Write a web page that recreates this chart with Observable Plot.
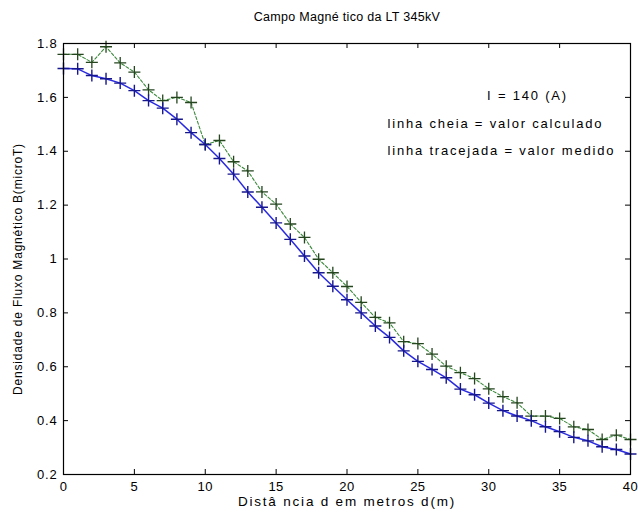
<!DOCTYPE html>
<html>
<head>
<meta charset="utf-8">
<script src="https://cdn.jsdelivr.net/npm/d3@7"></script>
<script src="https://cdn.jsdelivr.net/npm/@observablehq/plot@0.6"></script>
<style>
  html, body { margin: 0; padding: 0; background: #fff; }
  #wrap { position: relative; width: 638px; height: 520px; overflow: hidden; font-family: "Liberation Sans", Arial, sans-serif; color: #000; }
  #title { position: absolute; top: 9px; left: 63px; width: 568px; text-align: center; font-size: 12.5px; line-height: 16px; letter-spacing: 0.3px; }
  #chart { position: absolute; top: 30px; left: 0; }
</style>
</head>
<body>
<div id="wrap">
  <div id="title">Campo Magné tico da LT 345kV</div>
  <div id="chart"></div>
</div>
<script>
// ---- data ----
const distances = [0,1,2,3,4,5,6,7,8,9,10,11,12,13,14,15,16,17,18,19,20,21,22,23,24,25,26,27,28,29,30,31,32,33,34,35,36,37,38,39,40];
const calculated = [1.707,1.706,1.681,1.669,1.653,1.625,1.588,1.560,1.519,1.469,1.425,1.373,1.315,1.249,1.192,1.134,1.073,1.011,0.949,0.899,0.849,0.800,0.751,0.709,0.659,0.620,0.590,0.559,0.517,0.496,0.465,0.437,0.417,0.400,0.377,0.359,0.338,0.325,0.303,0.293,0.276];
const measured = [1.760,1.760,1.730,1.788,1.728,1.694,1.628,1.588,1.600,1.581,1.425,1.440,1.361,1.327,1.249,1.204,1.130,1.080,0.999,0.949,0.898,0.839,0.783,0.763,0.693,0.686,0.647,0.602,0.578,0.556,0.518,0.489,0.466,0.417,0.417,0.408,0.377,0.367,0.330,0.346,0.330];
const xTicks = [0,5,10,15,20,25,30,35,40];
const yTicks = [0.2,0.4,0.6,0.8,1,1.2,1.4,1.6,1.8];
const yTickLabels = ["0.2","0.4","0.6","0.8","1","1.2","1.4","1.6","1.8"];
const titleText = "Campo Magné tico da LT 345kV";
const xLabel = "Distâ ncia d em metros d(m)";
const yLabel = "Densidade de Fluxo Magnético B(microT)";
const annotations = ["I = 140 (A)", "linha cheia = valor calculado", "linha tracejada = valor medido"];

const calcData = distances.map((d, i) => ({d, v: calculated[i]}));
const measData = distances.map((d, i) => ({d, v: measured[i]}));

// ---- layout ----
const W = 638, H = 490;
const mTop = 13, mBottom = 46, mLeft = 63, mRight = 8;
const plotW = W - mLeft - mRight, plotH = H - mTop - mBottom;
const tickLen = 5;

const plusSymbol = {
  draw(ctx, size) {
    const r = Math.sqrt(size / Math.PI);
    ctx.moveTo(-r, 0); ctx.lineTo(r, 0);
    ctx.moveTo(0, -r); ctx.lineTo(0, r);
  }
};

const chart = Plot.plot({
  width: W, height: H,
  marginTop: mTop, marginBottom: mBottom, marginLeft: mLeft, marginRight: mRight,
  x: {domain: [0, 40]},
  y: {domain: [0.2, 1.8]},
  style: {fontFamily: "'Liberation Sans', Arial, sans-serif", fontSize: "13px", color: "#000", background: "#fff", overflow: "visible"},
  marks: [
    // lines
    Plot.line(measData, {x: "d", y: "v", stroke: "#3b8a3b", strokeWidth: 1.1, strokeDasharray: "3,2"}),
    Plot.line(calcData, {x: "d", y: "v", stroke: "#2a2ae0", strokeWidth: 1.5}),
    Plot.dot(measData, {x: "d", y: "v", symbol: plusSymbol, r: 6, fill: "none", stroke: "#25451f", strokeWidth: 1.3}),
    Plot.dot(calcData, {x: "d", y: "v", symbol: plusSymbol, r: 6, fill: "none", stroke: "#16168f", strokeWidth: 1.4}),
    // box & inward ticks
    Plot.frame({stroke: "#000", strokeWidth: 1.2}),
    Plot.tickX(xTicks, {x: d => d, insetTop: plotH - tickLen, stroke: "#000"}),
    Plot.tickX(xTicks, {x: d => d, insetBottom: plotH - tickLen, stroke: "#000"}),
    Plot.tickY(yTicks, {y: d => d, insetRight: plotW - tickLen, stroke: "#000"}),
    Plot.tickY(yTicks, {y: d => d, insetLeft: plotW - tickLen, stroke: "#000"}),
    // tick labels
    Plot.axisX(xTicks, {anchor: "bottom", tickSize: 0, tickPadding: 7, label: null}),
    Plot.axisY(yTicks, {anchor: "left", tickSize: 0, tickPadding: 6, label: null, tickFormat: d => yTickLabels[yTicks.indexOf(d)]}),
    // axis titles
    Plot.text([xLabel], {text: d => d, frameAnchor: "bottom", dy: 27, lineAnchor: "middle", textAnchor: "middle", fontSize: 13.5}),
    Plot.text([yLabel], {text: d => d, frameAnchor: "left", dx: -45, dy: 10, rotate: -90, textAnchor: "middle", lineAnchor: "middle", fontSize: 12}),
    // annotations
    Plot.text([annotations[0]], {text: d => d, frameAnchor: "top-left", dx: 464, dy: 52, textAnchor: "middle", lineAnchor: "middle", fontSize: 13}),
    Plot.text([annotations[1]], {text: d => d, frameAnchor: "top-left", dx: 324, dy: 80, textAnchor: "start", lineAnchor: "middle", fontSize: 13}),
    Plot.text([annotations[2]], {text: d => d, frameAnchor: "top-left", dx: 324, dy: 107, textAnchor: "start", lineAnchor: "middle", fontSize: 13})
  ]
});

// horizontal stretch of the MATLAB-like text
d3.select(chart).selectAll("text").each(function() {
  const t = this.textContent;
  if (annotations.includes(t)) this.style.letterSpacing = "1.8px";
  else if (t === xLabel) this.style.letterSpacing = "1.8px";
  else if (t === yLabel) this.style.letterSpacing = "0.8px";
});
d3.select(chart).selectAll("g[aria-label^='y-axis'] text").style("letter-spacing", "0.8px");
d3.select(chart).selectAll("g[aria-label^='x-axis'] text").style("letter-spacing", "0.5px");

document.getElementById("chart").appendChild(chart);
</script>
</body>
</html>
